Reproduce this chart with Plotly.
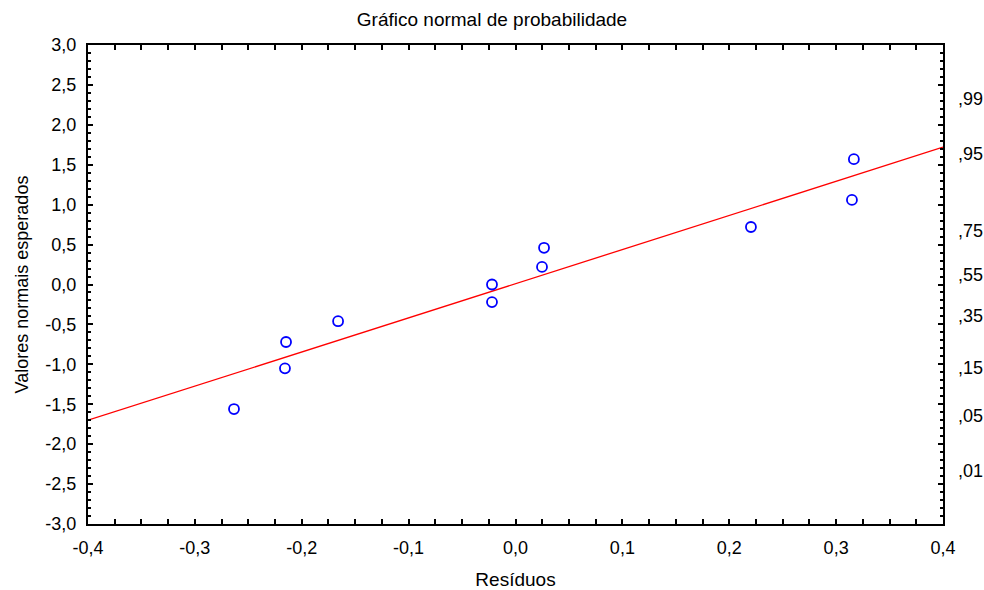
import plotly.graph_objects as go
from statistics import NormalDist

# Residuals and their expected normal values
residuos = [-0.2634, -0.2157, -0.2147, -0.1660, -0.0220, -0.0220, 0.0248, 0.0267, 0.2203, 0.3148, 0.3166]
valores_normais = [-1.56, -1.05, -0.72, -0.46, -0.22, 0.00, 0.22, 0.46, 0.72, 1.06, 1.57]

# Fitted reference line, evaluated at the x-range ends
linha_x = [-0.4, 0.4]
linha_y = [-1.70, 1.72]

# Axis ticks
x_ticks = [-0.4, -0.3, -0.2, -0.1, 0.0, 0.1, 0.2, 0.3, 0.4]
x_labels = ["-0,4", "-0,3", "-0,2", "-0,1", "0,0", "0,1", "0,2", "0,3", "0,4"]
y_ticks = [-3.0, -2.5, -2.0, -1.5, -1.0, -0.5, 0.0, 0.5, 1.0, 1.5, 2.0, 2.5, 3.0]
y_labels = ["-3,0", "-2,5", "-2,0", "-1,5", "-1,0", "-0,5", "0,0", "0,5", "1,0", "1,5", "2,0", "2,5", "3,0"]
prob_levels = [0.01, 0.05, 0.15, 0.35, 0.55, 0.75, 0.95, 0.99]
prob_labels = [",01", ",05", ",15", ",35", ",55", ",75", ",95", ",99"]
prob_positions = [NormalDist().inv_cdf(p) for p in prob_levels]

FONT = "Liberation Sans, Arial, sans-serif"
FS = 18

fig = go.Figure()
fig.add_trace(go.Scatter(
    x=linha_x, y=linha_y, mode="lines",
    line=dict(color="#ff0000", width=1.3), hoverinfo="skip", showlegend=False,
))
fig.add_trace(go.Scatter(
    x=residuos, y=valores_normais, mode="markers",
    marker=dict(symbol="circle-open", size=10, color="#0000ff", line=dict(width=1.8)),
    showlegend=False,
))
# Invisible trace to carry the probability axis on the right
fig.add_trace(go.Scatter(
    x=[None], y=[None], yaxis="y2", mode="markers", showlegend=False, hoverinfo="skip",
))

axis_common = dict(
    showgrid=False, zeroline=False, showline=True, linecolor="black", linewidth=2,
    mirror="allticks", ticks="inside", ticklen=5, tickwidth=1.5, tickcolor="black",
    tickfont=dict(family=FONT, size=FS, color="black"), automargin=False,
)

fig.update_layout(
    width=984, height=590,
    margin=dict(l=88, r=41, t=45, b=66),
    paper_bgcolor="white", plot_bgcolor="white",
    font=dict(family=FONT, size=FS, color="black"),
    title=dict(text="Gráfico normal de probabilidade", x=0.5, xref="container", xanchor="center",
               y=1 - 19 / 590, yanchor="middle", font=dict(family=FONT, size=19)),
    xaxis=dict(
        range=[-0.4, 0.4], tickvals=x_ticks, ticktext=x_labels,
        minor=dict(dtick=0.025, tick0=0, ticks="inside", ticklen=3, tickcolor="black"),
        title=dict(text="Resíduos", font=dict(family=FONT, size=19), standoff=18),
        ticklabelstandoff=6,
        **axis_common,
    ),
    yaxis=dict(
        range=[-3.0, 3.0], tickvals=y_ticks, ticktext=y_labels,
        minor=dict(dtick=0.1, tick0=0, ticks="inside", ticklen=3, tickcolor="black"),
        title=dict(text="Valores normais esperados", font=dict(family=FONT, size=FS), standoff=12),
        ticklabelstandoff=6,
        **axis_common,
    ),
    yaxis2=dict(
        overlaying="y", side="right", range=[-3.0, 3.0],
        tickvals=prob_positions, ticktext=prob_labels, automargin=False,
        showgrid=False, zeroline=False, showline=False, ticks="", ticklabelstandoff=14,
        tickfont=dict(family=FONT, size=FS, color="black"),
    ),
)

fig.write_html("out.html")
